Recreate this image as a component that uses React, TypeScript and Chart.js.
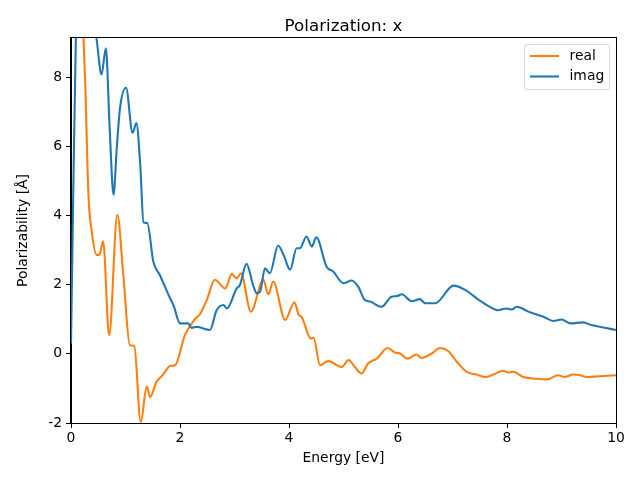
import React, { useEffect, useRef } from "react";
import { Chart, registerables } from "chart.js";
Chart.register(...registerables);

const chartTitle = "Polarization: x";
const xLabel = "Energy [eV]";
const yLabel = "Polarizability [Å]";
const seriesNames = ["real", "imag"];
const xTicks = [0, 2, 4, 6, 8, 10];
const yTicks = [-2, 0, 2, 4, 6, 8];

const energyReal = [0.0, 0.15, 0.23, 0.26, 0.32, 0.38, 0.47, 0.52, 0.59, 0.7, 0.85, 0.96, 1.08, 1.16, 1.28, 1.39, 1.45, 1.57, 1.69, 1.82, 1.91, 2.09, 2.28, 2.37, 2.49, 2.64, 2.83, 2.95, 3.04, 3.12, 3.3, 3.53, 3.62, 3.71, 3.93, 4.1, 4.18, 4.23, 4.4, 4.45, 4.57, 4.72, 4.97, 5.09, 5.21, 5.33, 5.45, 5.61, 5.81, 5.94, 6.04, 6.17, 6.34, 6.43, 6.62, 6.77, 6.92, 7.08, 7.26, 7.44, 7.6, 7.75, 7.93, 8.02, 8.12, 8.3, 8.54, 8.73, 8.94, 9.06, 9.22, 9.34, 9.46, 9.77, 10.0];
const realValues = [14, 11, 9.1, 7.88, 4.6, 3.54, 2.86, 2.86, 3.25, 0.54, 4.02, 2.28, 0.25, 0.23, -1.97, -0.94, -1.25, -0.81, -0.6, -0.35, -0.33, 0.54, 1.02, 1.15, 1.55, 2.14, 1.89, 2.31, 2.18, 2.33, 1.22, 2.14, 1.72, 2.09, 0.98, 1.49, 1.12, 1.07, 0.44, 0.46, -0.33, -0.21, -0.38, -0.18, -0.38, -0.57, -0.28, -0.14, 0.17, 0.04, 0.01, -0.14, -0.02, -0.12, 0.01, 0.17, 0.08, -0.23, -0.52, -0.6, -0.67, -0.6, -0.49, -0.54, -0.52, -0.67, -0.72, -0.74, -0.62, -0.67, -0.6, -0.62, -0.67, -0.64, -0.62];

const energyImag = [0.0, 0.04, 0.09, 0.2, 0.35, 0.47, 0.56, 0.64, 0.71, 0.78, 0.84, 0.9, 1.01, 1.13, 1.2, 1.27, 1.33, 1.4, 1.51, 1.63, 1.82, 1.88, 2.0, 2.15, 2.21, 2.31, 2.55, 2.67, 2.8, 2.86, 3.04, 3.1, 3.22, 3.35, 3.41, 3.47, 3.56, 3.65, 3.8, 3.9, 4.02, 4.14, 4.2, 4.32, 4.42, 4.5, 4.69, 4.81, 5.0, 5.15, 5.27, 5.39, 5.49, 5.7, 5.88, 5.98, 6.07, 6.25, 6.4, 6.5, 6.68, 7.02, 7.23, 7.5, 7.66, 7.84, 7.99, 8.09, 8.18, 8.39, 8.67, 8.85, 9.0, 9.16, 9.4, 9.55, 9.77, 10.0];
const imagValues = [0.3, 4.5, 9.2, 11.5, 10.5, 9.1, 8.08, 8.83, 6.5, 4.6, 5.95, 7.11, 7.69, 6.39, 6.67, 5.48, 3.8, 3.78, 2.67, 2.28, 1.6, 1.41, 0.88, 0.88, 0.75, 0.78, 0.69, 1.25, 1.41, 1.31, 1.89, 1.99, 2.6, 1.94, 1.75, 1.8, 2.47, 2.33, 3.13, 2.86, 2.43, 3.05, 3.05, 3.39, 3.1, 3.37, 2.52, 2.38, 2.04, 2.12, 1.94, 1.56, 1.51, 1.36, 1.65, 1.67, 1.72, 1.52, 1.58, 1.46, 1.46, 1.97, 1.85, 1.54, 1.38, 1.26, 1.31, 1.28, 1.36, 1.22, 1.07, 0.95, 0.99, 0.88, 0.91, 0.83, 0.76, 0.69];

const REAL_COLOR = "#ff7f0e";
const IMAG_COLOR = "#1f77b4";
const FONT = "DejaVu Sans";

const framePlugin = {
  id: "frameAndExtras",
  afterDraw(chart: any) {
    const { ctx, chartArea } = chart;
    const { left, right, top, bottom } = chartArea;
    ctx.save();
    ctx.strokeStyle = "#000";
    ctx.lineWidth = 1;
    ctx.strokeRect(Math.round(left) - 0.5, Math.round(top) - 0.5, Math.round(right - left) + 1, Math.round(bottom - top) + 1);
    ctx.fillStyle = "#000";
    ctx.font = `16.7px "${FONT}"`;
    ctx.textAlign = "center";
    ctx.textBaseline = "alphabetic";
    ctx.fillText(chartTitle, (left + right) / 2, top - 7);
    const bx = 524.5, by = 44.5, bw = 85, bh = 45;
    ctx.beginPath();
    ctx.roundRect(bx, by, bw, bh, 3);
    ctx.fillStyle = "rgba(255,255,255,0.8)";
    ctx.fill();
    ctx.strokeStyle = "rgba(204,204,204,0.8)";
    ctx.lineWidth = 1;
    ctx.stroke();
    const colors = [REAL_COLOR, IMAG_COLOR];
    const ys = [56, 76.5];
    ctx.font = `13.9px "${FONT}"`;
    ctx.textAlign = "left";
    ctx.textBaseline = "middle";
    for (let i = 0; i < 2; i++) {
      ctx.beginPath();
      ctx.moveTo(530, ys[i]);
      ctx.lineTo(559, ys[i]);
      ctx.strokeStyle = colors[i];
      ctx.lineWidth = 2.1;
      ctx.stroke();
      ctx.fillStyle = "#000";
      ctx.fillText(seriesNames[i], 569.5, ys[i]);
    }
    ctx.restore();
  },
};

export default function App() {
  const ref = useRef<HTMLCanvasElement>(null);
  useEffect(() => {
    document.body.style.margin = "0";
    const canvas = ref.current!;
    const tickFont = { family: FONT, size: 13.9 };
    const chart = new Chart(canvas, {
      type: "line",
      data: {
        datasets: [
          {
            label: seriesNames[1],
            data: energyImag.map((x, i) => ({ x, y: imagValues[i] })),
            borderColor: IMAG_COLOR,
            borderWidth: 2.1,
            pointRadius: 0,
            cubicInterpolationMode: "monotone",
            fill: false,
            order: 1,
          },
          {
            label: seriesNames[0],
            data: energyReal.map((x, i) => ({ x, y: realValues[i] })),
            borderColor: REAL_COLOR,
            borderWidth: 2.1,
            pointRadius: 0,
            cubicInterpolationMode: "monotone",
            fill: false,
            order: 2,
          },
        ],
      },
      options: {
        responsive: false,
        animation: false,
        layout: { padding: { top: 38, right: 24, left: 0, bottom: 0 } },
        plugins: { legend: { display: false }, title: { display: false }, tooltip: { enabled: false } },
        scales: {
          x: {
            type: "linear",
            min: 0,
            max: 10,
            afterBuildTicks: (s: any) => { s.ticks = xTicks.map((v) => ({ value: v })); },
            afterFit: (s: any) => { s.height = 57; },
            grid: { drawOnChartArea: false, drawTicks: true, tickLength: 5, color: "#000" },
            border: { display: true, color: "#000", width: 1 },
            ticks: { color: "#000", font: tickFont, padding: 2, maxRotation: 0, autoSkip: false },
            title: { display: true, text: xLabel, color: "#000", font: tickFont, padding: { top: 0, bottom: 13 } },
          },
          y: {
            type: "linear",
            min: -2,
            max: 9.13,
            afterBuildTicks: (s: any) => { s.ticks = yTicks.map((v) => ({ value: v })); },
            afterFit: (s: any) => { s.width = 71; },
            grid: { drawOnChartArea: false, drawTicks: true, tickLength: 5, color: "#000" },
            border: { display: true, color: "#000", width: 1 },
            ticks: { color: "#000", font: tickFont, padding: 4, autoSkip: false },
            title: { display: true, text: yLabel, color: "#000", font: tickFont, padding: { top: 15, bottom: 0 } },
          },
        },
      },
      plugins: [framePlugin],
    } as any);
    return () => chart.destroy();
  }, []);
  return <canvas ref={ref} width={640} height={480} style={{ display: "block" }} />;
}
